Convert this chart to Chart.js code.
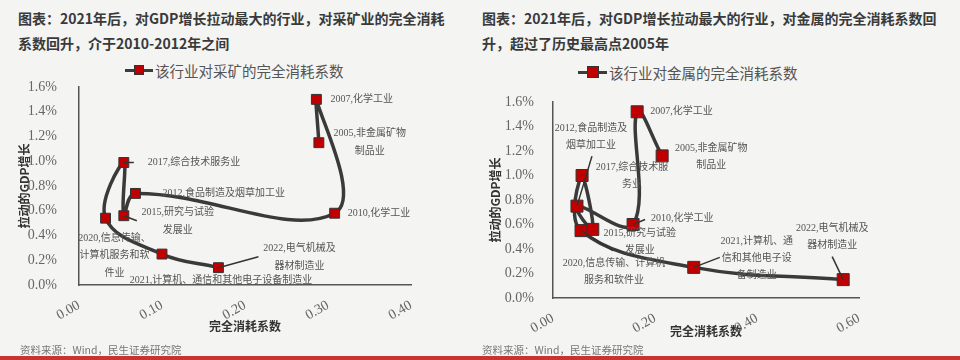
<!DOCTYPE html>
<html>
<head>
<meta charset="utf-8">
<script src="https://cdn.jsdelivr.net/npm/chart.js@4"></script>
<style>
  body { margin: 0; background: #f4f4f2; }
  #page { position: relative; width: 960px; height: 360px; overflow: hidden; background: #f4f4f2; font-family: "Noto Sans CJK SC", sans-serif; }
  .title { position: absolute; font-size: 14px; font-weight: bold; color: #3a3a3a; line-height: 25px; white-space: nowrap; }
  canvas { position: absolute; top: 0; }
  .legend { position: absolute; font-size: 14.5px; color: #555; white-space: nowrap; display: flex; align-items: center; height: 20px; }
  .legend .mark { position: relative; height: 14px; margin-right: 2px; }
  .legend .mark::before { content: ''; position: absolute; left: 0; right: 0; top: 50%; height: 3px; margin-top: -1.5px; background: #3c3c3c; }
  .legend .mark span { position: absolute; top: 50%; left: 50%; transform: translate(-50%, -50%); background: #c00000; border: 1px solid #333; box-sizing: border-box; }
  .source { position: absolute; font-size: 10.5px; color: #777; white-space: nowrap; }
  #redline { position: absolute; left: 0; top: 356px; width: 960px; height: 4px; background: #c8352e; }
</style>
</head>
<body>
<div id="page">
  <div class="title" style="left:18px; top:6px;">图表：2021年后，对GDP增长拉动最大的行业，对采矿业的完全消耗<br>系数回升，介于2010-2012年之间</div>
  <div class="title" style="left:482px; top:6px;">图表：2021年后，对GDP增长拉动最大的行业，对金属的完全消耗系数回<br>升，超过了历史最高点2005年</div>

  <div class="legend" style="left:125px; top:60px;"><div class="mark" style="width:28px;"><span style="width:10px;height:10px;"></span></div>该行业对采矿的完全消耗系数</div>
  <div class="legend" style="left:578px; top:62px;"><div class="mark" style="width:29px;"><span style="width:12px;height:12px;"></span></div>该行业对金属的完全消耗系数</div>

  <canvas id="mining-chart" width="480" height="360" style="left:0;"></canvas>
  <canvas id="metal-chart" width="480" height="360" style="left:480px;"></canvas>

  <div class="source" style="left:20px; top:342px;">资料来源：Wind，民生证券研究院</div>
  <div class="source" style="left:482px; top:342px;">资料来源：Wind，民生证券研究院</div>
  <div id="redline"></div>
</div>

<script>
// Data
const years = ['2005', '2007', '2010', '2012', '2015', '2017', '2020', '2021', '2022'];

// Left chart: consumption coefficient on mining vs. GDP contribution (%)
const miningCoef = [0.289, 0.286, 0.308, 0.068, 0.054, 0.054, 0.032, 0.100, 0.168];
const miningGdp = [1.15, 1.50, 0.58, 0.74, 0.56, 0.99, 0.54, 0.25, 0.14];
const miningLabels = [
  ['2005,非金属矿物', '制品业'],
  ['2007,化学工业'],
  ['2010,化学工业'],
  ['2012,食品制造及烟草加工业'],
  ['2015,研究与试验', '发展业'],
  ['2017,综合技术服务业'],
  ['2020,信息传输、', '计算机服务和软', '件业'],
  ['2021,计算机、通信和其他电子设备制造业'],
  ['2022,电气机械及', '器材制造业']
];

// Right chart: consumption coefficient on metals vs. GDP contribution (%)
const metalCoef = [0.214, 0.165, 0.157, 0.047, 0.078, 0.057, 0.055, 0.276, 0.569];
const metalGdp = [1.16, 1.52, 0.60, 0.75, 0.56, 1.00, 0.55, 0.25, 0.15];
const metalLabels = [
  ['2005,非金属矿物', '制品业'],
  ['2007,化学工业'],
  ['2010,化学工业'],
  ['2012,食品制造及', '烟草加工业'],
  ['2015,研究与试验', '发展业'],
  ['2017,综合技术服', '务业'],
  ['2020,信息传输、计算机', '服务和软件业'],
  ['2021,计算机、通', '信和其他电子设', '备制造业'],
  ['2022,电气机械及', '器材制造业']
];

const yTickStep = 0.2;

// Label placement relative to each point (pixels)
const miningLayout = [
  { dx: 51, dy: -9, align: 'center' },
  { dx: 14, dy: 0, align: 'left' },
  { dx: 13, dy: 0, align: 'left' },
  { dx: 27, dy: 0, align: 'left' },
  { dx: 54, dy: -3, align: 'center', lead: [0, 0, 13, 5] },
  { dx: 24, dy: 0, align: 'left', lead: [0, 0, 10, 0] },
  { dx: 9, dy: 20, align: 'center' },
  { dx: 59, dy: 26, align: 'center' },
  { dx: 81, dy: -19, align: 'center', lead: [0, 0, 40, -11] }
];
const metalLayout = [
  { dx: 49, dy: -8, align: 'center' },
  { dx: 13, dy: 0, align: 'left' },
  { dx: 18, dy: -6, align: 'left', lead: [0, 0, 12, -5] },
  { dx: 14, dy: -78, align: 'center', lead: [15, -50, 0, 0] },
  { dx: 47, dy: 4, align: 'center' },
  { dx: 50, dy: -8, align: 'center' },
  { dx: 33, dy: 33, align: 'center', lead: [0, 0, 32, 20] },
  { dx: 63, dy: -26, align: 'center', lead: [0, 0, 26, -10] },
  { dx: -11, dy: -51, align: 'center', lead: [-11, -23, 0, 0] }
];

const serif = '"Liberation Serif", "Times New Roman", serif';
const labelFont = '10px "Liberation Serif", "Noto Sans CJK SC", serif';

// Draws the year/industry labels and their leader lines
function makeLabelPlugin(labels, layout, lineGap) {
  return {
    id: 'pointLabels',
    afterDatasetsDraw(chart) {
      const ctx = chart.ctx;
      const points = chart.getDatasetMeta(0).data;
      ctx.save();
      ctx.font = labelFont;
      ctx.fillStyle = '#555';
      ctx.strokeStyle = '#333';
      ctx.lineWidth = 1.5;
      ctx.textBaseline = 'middle';
      points.forEach((pt, i) => {
        const lay = layout[i];
        if (lay.lead) {
          ctx.beginPath();
          ctx.moveTo(pt.x + lay.lead[0], pt.y + lay.lead[1]);
          ctx.lineTo(pt.x + lay.lead[2], pt.y + lay.lead[3]);
          ctx.stroke();
        }
        ctx.textAlign = lay.align;
        labels[i].forEach((line, j) => {
          ctx.fillText(line, pt.x + lay.dx, pt.y + lay.dy + j * lineGap);
        });
      });
      ctx.restore();
    }
  };
}

function makeChart(canvasId, coef, gdp, labels, layout, cfg) {
  const ctx = document.getElementById(canvasId).getContext('2d');
  return new Chart(ctx, {
    type: 'scatter',
    data: {
      datasets: [{
        label: cfg.legend,
        data: coef.map((c, i) => ({ x: c, y: gdp[i] })),
        showLine: true,
        tension: 0.4,
        borderColor: '#3a3a3a',
        borderWidth: 3.5,
        pointStyle: 'rect',
        pointRadius: cfg.pointRadius,
        pointBackgroundColor: '#c00000',
        pointBorderColor: '#333',
        pointBorderWidth: 1
      }]
    },
    options: {
      responsive: false,
      animation: false,
      layout: { padding: cfg.padding },
      plugins: {
        legend: { display: false },
        tooltip: { enabled: false }
      },
      scales: {
        x: {
          type: 'linear',
          min: 0,
          max: cfg.xMax,
          afterFit: scale => { scale.height = cfg.xHeight; },
          grid: { display: false },
          border: { display: true, color: '#555', width: 1.5 },
          ticks: {
            stepSize: cfg.xStep,
            autoSkip: false,
            minRotation: 30,
            maxRotation: 30,
            padding: 4,
            color: '#666',
            font: { family: serif, size: 14 },
            callback: v => v.toFixed(2)
          },
          title: {
            display: true,
            text: '完全消耗系数',
            color: '#333',
            font: { family: '"Noto Sans CJK SC"', size: 12, weight: 'bold' },
            padding: { top: 0, bottom: 4 }
          }
        },
        y: {
          min: 0,
          max: 1.6,
          afterFit: scale => { scale.width = cfg.yWidth; },
          grid: { display: false },
          border: { display: true, color: '#555', width: 1.5 },
          ticks: {
            stepSize: yTickStep,
            padding: cfg.yPad,
            color: '#666',
            font: { family: serif, size: 14 },
            callback: v => v.toFixed(1) + '%'
          },
          title: {
            display: true,
            text: '拉动的GDP增长',
            color: '#333',
            font: { family: '"Noto Sans CJK SC"', size: 12, weight: 'bold' },
            padding: 0
          }
        }
      }
    },
    plugins: [makeLabelPlugin(labels, layout, cfg.lineGap)]
  });
}

makeChart('mining-chart', miningCoef, miningGdp, miningLabels, miningLayout, {
  legend: '该行业对采矿的完全消耗系数',
  pointRadius: 7,
  padding: { left: 17, top: 87, right: 69, bottom: 22 },
  xMax: 0.4, xStep: 0.1, xHeight: 53,
  yWidth: 62, yPad: 14, lineGap: 17.5
});

makeChart('metal-chart', metalCoef, metalGdp, metalLabels, metalLayout, {
  legend: '该行业对金属的完全消耗系数',
  pointRadius: 8.5,
  padding: { left: 8, top: 102, right: 101, bottom: 17 },
  xMax: 0.6, xStep: 0.2, xHeight: 45,
  yWidth: 65, yPad: 11, lineGap: 17
});
</script>
</body>
</html>
